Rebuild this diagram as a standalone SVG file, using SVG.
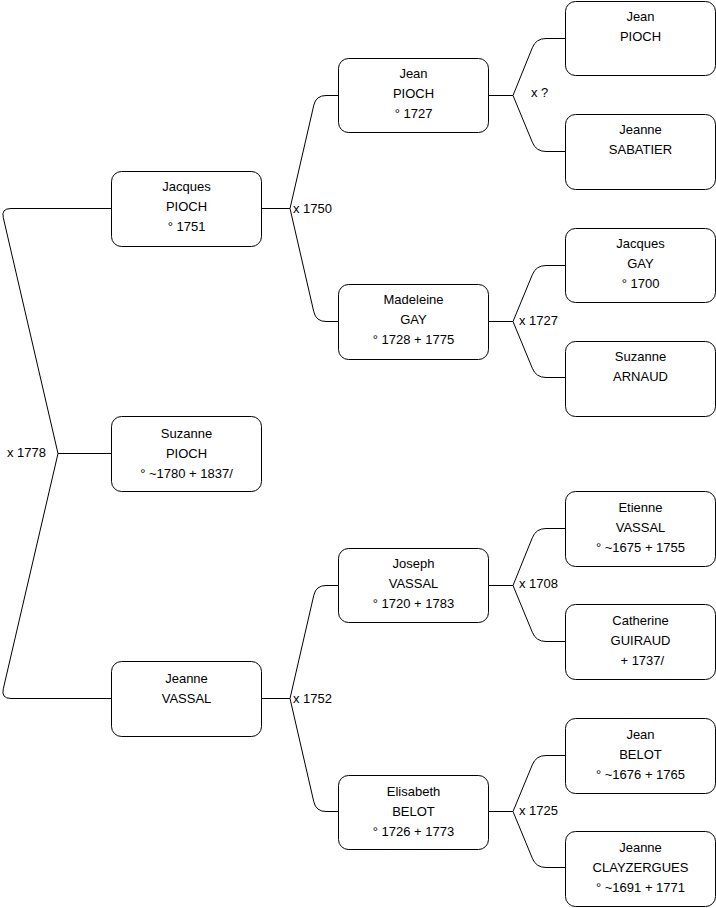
<svg xmlns="http://www.w3.org/2000/svg" width="716" height="908" viewBox="0 0 716 908">
<style>
.b{fill:#fff;stroke:#000;stroke-width:1}
.t{font-family:"Liberation Sans",Arial,sans-serif;font-size:13px;fill:#000;text-anchor:middle}
.l{font-family:"Liberation Sans",Arial,sans-serif;font-size:13px;fill:#000}
.c{fill:none;stroke:#000;stroke-width:1}
</style>
<rect width="716" height="908" fill="#fff"/>
<g id="connectors">
<path class="c" d="M111,453.5 L58,453.5 L3.3,217.7 Q1,208.5 11,208.5 L111,208.5"/>
<path class="c" d="M58,453.5 L3.3,688.8 Q1,698.5 11,698.5 L111,698.5"/>
<path class="c" d="M262,208.5 L290,208.5 L313.8,105.2 Q316,95.5 326,95.5 L338,95.5"/>
<path class="c" d="M290,208.5 L313.8,311.8 Q316,321.5 326,321.5 L338,321.5"/>
<path class="c" d="M262,698.5 L290,698.5 L313.8,595.2 Q316,585.5 326,585.5 L338,585.5"/>
<path class="c" d="M290,698.5 L313.8,801.8 Q316,811.5 326,811.5 L338,811.5"/>
<path class="c" d="M489,95.5 L513,95.5 L532.3,47.8 Q536,38.5 546,38.5 L565,38.5"/>
<path class="c" d="M513,95.5 L532.3,142.2 Q536,151.5 546,151.5 L565,151.5"/>
<path class="c" d="M489,321.5 L513,321.5 L532.3,274.8 Q536,265.5 546,265.5 L565,265.5"/>
<path class="c" d="M513,321.5 L532.3,368.2 Q536,377.5 546,377.5 L565,377.5"/>
<path class="c" d="M489,585.5 L513,585.5 L532.3,537.8 Q536,528.5 546,528.5 L565,528.5"/>
<path class="c" d="M513,585.5 L532.3,632.2 Q536,641.5 546,641.5 L565,641.5"/>
<path class="c" d="M489,811.5 L513,811.5 L532.3,764.8 Q536,755.5 546,755.5 L565,755.5"/>
<path class="c" d="M513,811.5 L532.3,858.2 Q536,867.5 546,867.5 L565,867.5"/>
<text class="l" x="7" y="457">x 1778</text>
<text class="l" x="293" y="213">x 1750</text>
<text class="l" x="293" y="703">x 1752</text>
<text class="l" x="531" y="97">x ?</text>
<text class="l" x="519" y="325">x 1727</text>
<text class="l" x="519" y="588">x 1708</text>
<text class="l" x="519" y="815">x 1725</text>
</g>
<g id="jacques-pioch"><rect class="b" x="111.5" y="171.5" width="150" height="75" rx="10"/><text class="t" x="186.5" y="191">Jacques</text><text class="t" x="186.5" y="211">PIOCH</text><text class="t" x="186.5" y="231">° 1751</text></g>
<g id="suzanne-pioch"><rect class="b" x="111.5" y="416.5" width="150" height="75" rx="10"/><text class="t" x="186.5" y="438">Suzanne</text><text class="t" x="186.5" y="458">PIOCH</text><text class="t" x="186.5" y="478">° ~1780 + 1837/</text></g>
<g id="jeanne-vassal"><rect class="b" x="111.5" y="661.5" width="150" height="75" rx="10"/><text class="t" x="186.5" y="683">Jeanne</text><text class="t" x="186.5" y="703">VASSAL</text></g>
<g id="jean-pioch-1727"><rect class="b" x="338.5" y="58.5" width="150" height="74" rx="10"/><text class="t" x="413.5" y="78">Jean</text><text class="t" x="413.5" y="98">PIOCH</text><text class="t" x="413.5" y="118">° 1727</text></g>
<g id="madeleine-gay"><rect class="b" x="338.5" y="284.5" width="150" height="75" rx="10"/><text class="t" x="413.5" y="304">Madeleine</text><text class="t" x="413.5" y="324">GAY</text><text class="t" x="413.5" y="344">° 1728 + 1775</text></g>
<g id="joseph-vassal"><rect class="b" x="338.5" y="548.5" width="150" height="74" rx="10"/><text class="t" x="413.5" y="568">Joseph</text><text class="t" x="413.5" y="588">VASSAL</text><text class="t" x="413.5" y="608">° 1720 + 1783</text></g>
<g id="elisabeth-belot"><rect class="b" x="338.5" y="775.5" width="150" height="74" rx="10"/><text class="t" x="413.5" y="796">Elisabeth</text><text class="t" x="413.5" y="816">BELOT</text><text class="t" x="413.5" y="836">° 1726 + 1773</text></g>
<g id="jean-pioch"><rect class="b" x="565.5" y="1.5" width="150" height="74" rx="10"/><text class="t" x="640.5" y="21">Jean</text><text class="t" x="640.5" y="41">PIOCH</text></g>
<g id="jeanne-sabatier"><rect class="b" x="565.5" y="114.5" width="150" height="75" rx="10"/><text class="t" x="640.5" y="134">Jeanne</text><text class="t" x="640.5" y="154">SABATIER</text></g>
<g id="jacques-gay"><rect class="b" x="565.5" y="228.5" width="150" height="74" rx="10"/><text class="t" x="640.5" y="248">Jacques</text><text class="t" x="640.5" y="268">GAY</text><text class="t" x="640.5" y="288">° 1700</text></g>
<g id="suzanne-arnaud"><rect class="b" x="565.5" y="341.5" width="150" height="75" rx="10"/><text class="t" x="640.5" y="361">Suzanne</text><text class="t" x="640.5" y="381">ARNAUD</text></g>
<g id="etienne-vassal"><rect class="b" x="565.5" y="491.5" width="150" height="75" rx="10"/><text class="t" x="640.5" y="512">Etienne</text><text class="t" x="640.5" y="532">VASSAL</text><text class="t" x="640.5" y="552">° ~1675 + 1755</text></g>
<g id="catherine-guiraud"><rect class="b" x="565.5" y="604.5" width="150" height="75" rx="10"/><text class="t" x="640.5" y="625">Catherine</text><text class="t" x="640.5" y="645">GUIRAUD</text><text class="t" x="640.5" y="665" xml:space="preserve"> + 1737/</text></g>
<g id="jean-belot"><rect class="b" x="565.5" y="718.5" width="150" height="75" rx="10"/><text class="t" x="640.5" y="739">Jean</text><text class="t" x="640.5" y="759">BELOT</text><text class="t" x="640.5" y="779">° ~1676 + 1765</text></g>
<g id="jeanne-clayzergues"><rect class="b" x="565.5" y="831.5" width="150" height="75" rx="10"/><text class="t" x="640.5" y="852">Jeanne</text><text class="t" x="640.5" y="872">CLAYZERGUES</text><text class="t" x="640.5" y="892">° ~1691 + 1771</text></g>
</svg>
